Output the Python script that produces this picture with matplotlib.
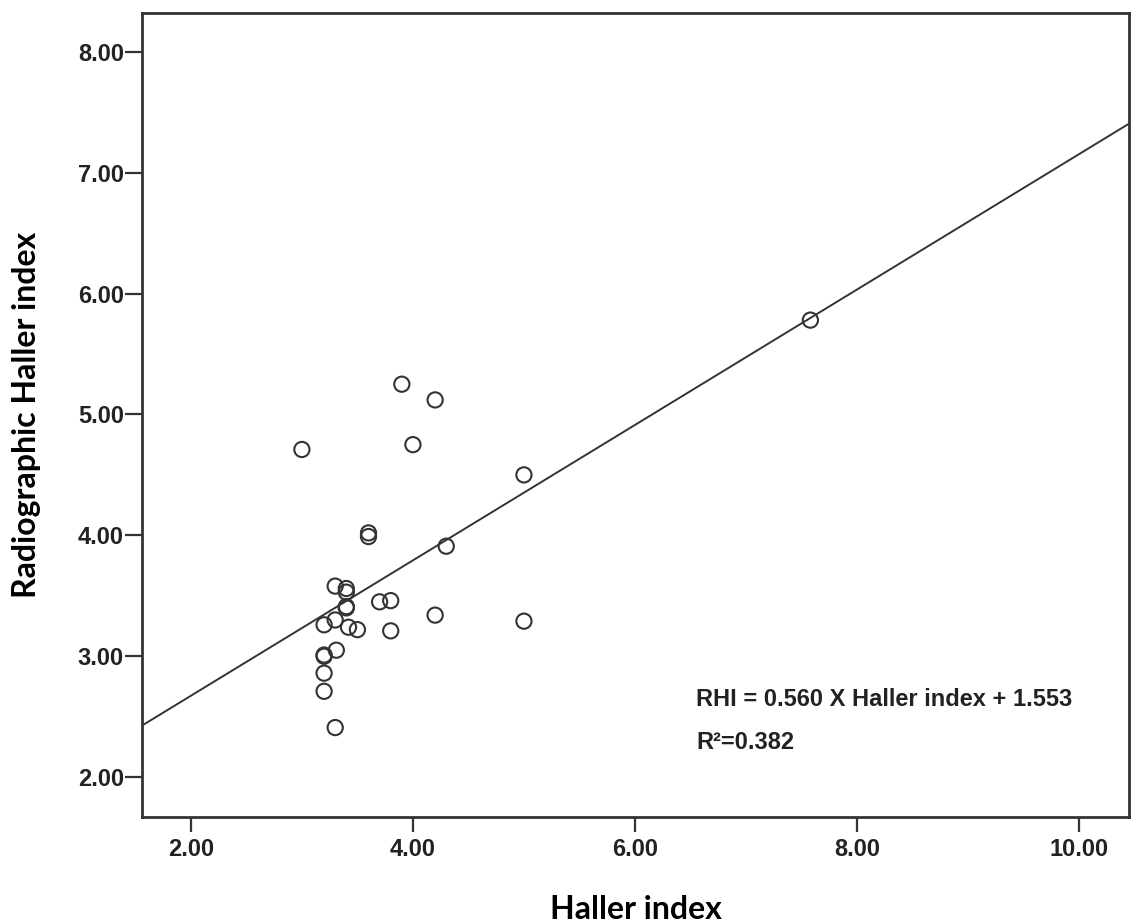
import matplotlib
matplotlib.use("Agg")
import matplotlib.pyplot as plt
import numpy as np

# Haller index vs radiographic Haller index
haller = [3.90, 4.20, 3.00, 4.00, 5.00, 3.60, 3.60, 4.30, 3.30, 3.40,
          3.40, 3.40, 3.40, 3.70, 3.80, 4.20, 5.00, 3.20, 3.30, 3.42,
          3.50, 3.80, 3.20, 3.20, 3.31, 3.20, 3.20, 3.30, 7.58]
rhi = [5.25, 5.12, 4.71, 4.75, 4.50, 4.02, 3.99, 3.91, 3.58, 3.56,
       3.53, 3.41, 3.40, 3.45, 3.46, 3.34, 3.29, 3.26, 3.30, 3.24,
       3.22, 3.21, 3.01, 3.00, 3.05, 2.86, 2.71, 2.41, 5.78]

slope = 0.560
intercept = 1.553
r2 = 0.382

x_ticks = [2, 4, 6, 8, 10]
y_ticks = [2, 3, 4, 5, 6, 7, 8]

fig = plt.figure(figsize=(11.37, 9.23), dpi=100)
ax = fig.add_axes([0.1249, 0.1148, 0.8681, 0.8711])

xlim = (1.56, 10.45)
ylim = (1.67, 8.32)

xs = np.array(xlim)
ax.plot(xs, slope * xs + intercept, color="#333333", lw=1.4, zorder=2)
ax.scatter(haller, rhi, s=120, facecolors="none", edgecolors="#333333",
           linewidths=1.5, zorder=3)

ax.set_xlim(*xlim)
ax.set_ylim(*ylim)
ax.set_xticks(x_ticks)
ax.set_yticks(y_ticks)
ax.set_xticklabels(["%.2f" % v for v in x_ticks])
ax.set_yticklabels(["%.2f" % v for v in y_ticks])

for lbl in ax.get_xticklabels() + ax.get_yticklabels():
    lbl.set_family("Liberation Sans")
    lbl.set_weight("bold")
    lbl.set_fontsize(17)
    lbl.set_color("#222222")

ax.tick_params(axis="x", direction="out", length=11, width=1.6, pad=4, color="#333333")
ax.tick_params(axis="y", direction="out", length=12, width=1.6, pad=1, color="#333333")
for sp in ax.spines.values():
    sp.set_linewidth(2)
    sp.set_color("#333333")

ax.set_xlabel("Haller index", family="Lato", weight="bold", fontsize=23, va="center")
ax.xaxis.set_label_coords(0.5, -0.1156)
ax.set_ylabel("Radiographic Haller index", family="Lato", weight="bold", fontsize=23, va="center")
ax.yaxis.set_label_coords(-0.1166, 0.5)

ax.text(6.55, 2.64, "RHI = 0.560 X Haller index + 1.553", family="Liberation Sans",
        weight="bold", fontsize=17, color="#222222", va="center", ha="left")
ax.text(6.55, 2.29, "R²=%.3f" % r2, family="Liberation Sans",
        weight="bold", fontsize=17, color="#222222", va="center", ha="left")

fig.savefig("out.png", dpi=100)
